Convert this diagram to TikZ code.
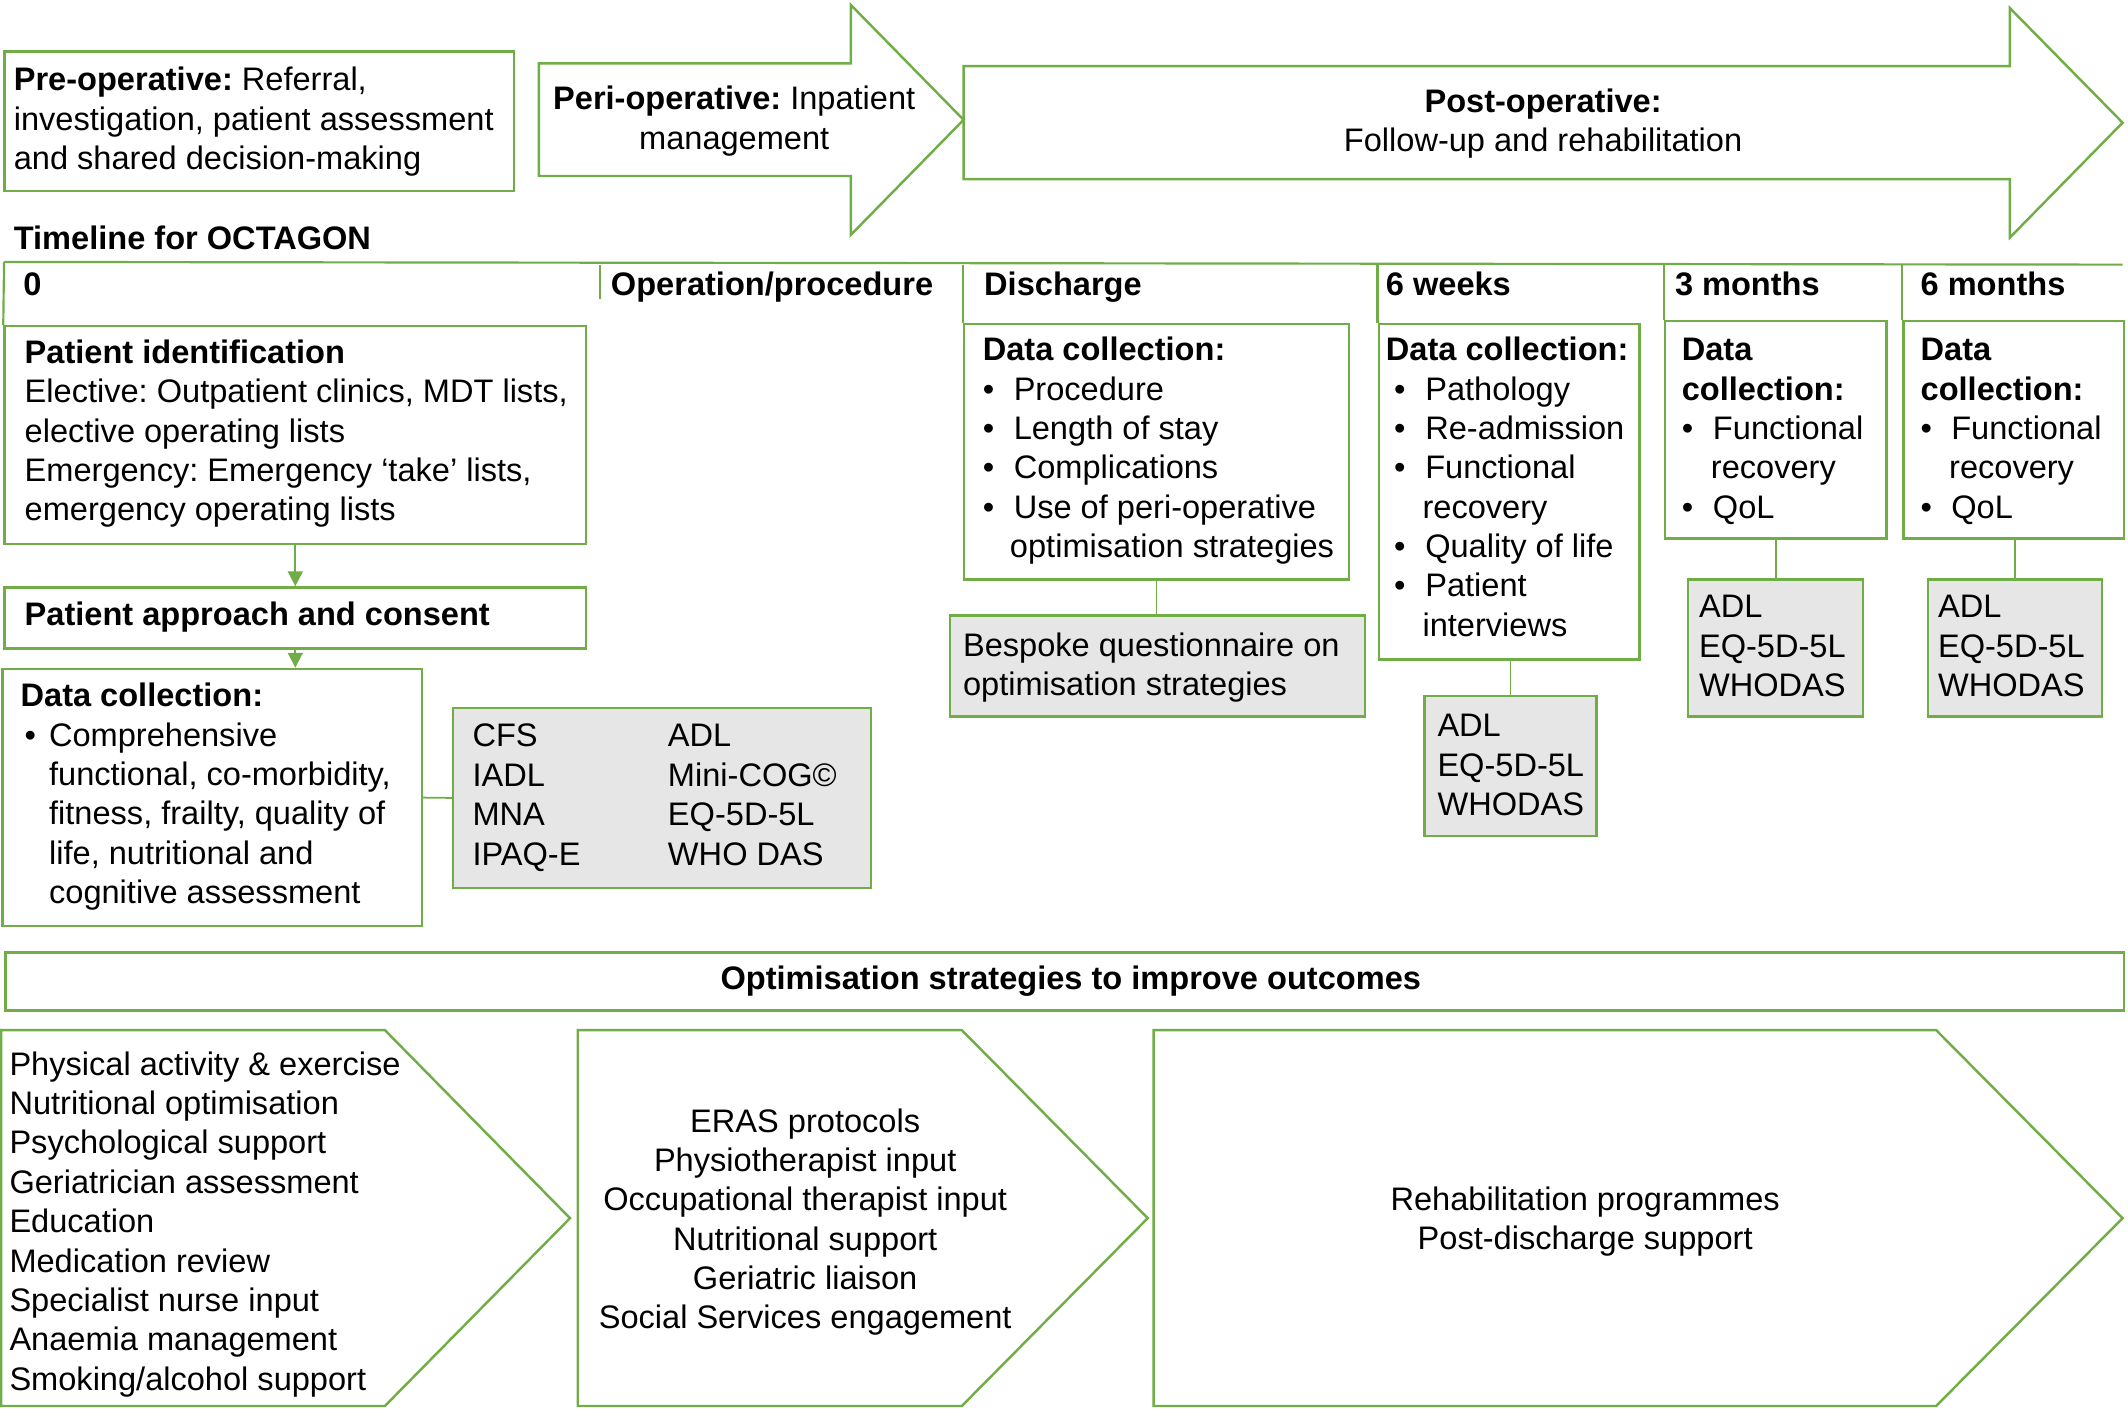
\documentclass[tikz,border=0pt]{standalone}
\usepackage{fontspec}
\setmainfont{Liberation Sans}
\usetikzlibrary{arrows.meta}
\definecolor{ogreen}{RGB}{112,173,71}
\definecolor{lgrey}{RGB}{231,230,230}
\newcommand\fs{\fontsize{24}{29}\selectfont\frenchspacing}
\newcommand\bul[2][0pt]{\makebox[#2][l]{\hspace{#1}\textbullet}}
\begin{document}
\begin{tikzpicture}[x=1pt,y=-1pt,
  gbox/.style={draw=ogreen, line width=1.8pt, inner sep=0pt, anchor=north west},
  greybox/.style={gbox, fill=lgrey},
  shp/.style={draw=ogreen, line width=1.8pt, line join=miter},
  txt/.style={inner sep=0pt, anchor=north west, align=left, font=\fs},
  ctxt/.style={inner sep=0pt, anchor=north, align=center, font=\fs},
  conn/.style={draw=ogreen, line width=1.3pt},
  arr/.style={conn, -{Triangle[length=11pt,width=11pt]}},
  tl/.style={draw=ogreen, line width=1.6pt}]
\useasboundingbox (0,0) rectangle (1568,1037.5);

% ---- top phase row
\node[gbox, minimum width=375.6pt, minimum height=103pt] (pre) at (2.4,37) {};
\node[txt] (pretxt) at (10,46.3) {\strut\textbf{Pre-operative:} Referral,\\investigation, patient assessment\\and shared decision-making};

\draw[shp] (397,46.7) -- (627,46.7) -- (627,3.7) -- (710,88.3) -- (627,173) -- (627,129.7) -- (397,129.7) -- cycle;
\node[ctxt] (peritxt) at (541,60.3) {\strut\textbf{Peri-operative:} Inpatient\\management};

\draw[shp] (710,48.7) -- (1481,48.7) -- (1481,6) -- (1564,90.4) -- (1481,175) -- (1481,132) -- (710,132) -- cycle;
\node[ctxt] (posttxt) at (1137,62.3) {\strut\textbf{Post-operative:}\\Follow-up and rehabilitation};

\node[txt] (tltitle) at (10,163.3) {\strut\textbf{Timeline for OCTAGON}};

% ---- timeline boxes
\node[gbox, minimum width=428.6pt, minimum height=160.5pt] (pi) at (2.4,239.5) {};
\node[gbox, minimum width=428.6pt, minimum height=45pt] (appr) at (2.4,432) {};
\node[gbox, minimum width=309pt, minimum height=189.6pt] (dc) at (1,492) {};
\node[greybox, minimum width=308pt, minimum height=132.7pt] (tools) at (333,520.7) {};

\node[gbox, minimum width=283.5pt, minimum height=188.2pt] (dis) at (709.5,237.8) {};
\node[greybox, minimum width=306pt, minimum height=74.5pt] (bes) at (699,452.5) {};

\node[gbox, minimum width=192pt, minimum height=247pt] (wk) at (1015,238) {};
\node[greybox, minimum width=127pt, minimum height=103pt] (wkg) at (1048.6,512) {};

\node[gbox, minimum width=163pt, minimum height=160.4pt] (mA) at (1226,235.6) {};
\node[greybox, minimum width=129pt, minimum height=101pt] (mAg) at (1243,426) {};

\node[gbox, minimum width=162.4pt, minimum height=160.4pt] (mB) at (1401.6,235.6) {};
\node[greybox, minimum width=128.2pt, minimum height=101pt] (mBg) at (1419.8,426) {};

% timeline line and separators
\coordinate (tlA) at (3,193);
\coordinate (tlB) at (1564,195);
\coordinate (opA) at (441.8,195);
\coordinate (opB) at (441.8,220);
\draw[tl] (tlA) -- (tlB);
\draw[tl] (tlA) -- (pi.north west);
\draw[tl] (opA) -- (opB);
\draw[tl] (dis.north west |- tlB) -- (dis.north west);
\draw[tl] (wk.north west |- tlB) -- (wk.north west);
\draw[tl] (mA.north west |- tlB) -- (mA.north west);
\draw[tl] (mB.north west |- tlB) -- (mB.north west);

% headers
\node[txt] (h0) at (17,197.3) {\strut\textbf{0}};
\node[txt] (hop) at (450,197.3) {\strut\textbf{Operation/procedure}};
\node[txt] (hdis) at (725,197.3) {\strut\textbf{Discharge}};
\node[txt] (hwk) at (1021,197.3) {\strut\textbf{6 weeks}};
\node[txt] (hmA) at (1234,197.3) {\strut\textbf{3 months}};
\node[txt] (hmB) at (1415,197.3) {\strut\textbf{6 months}};

% left column texts
\node[txt] (pitxt) at (18,247.3) {\strut\textbf{Patient identification}\\Elective: Outpatient clinics, MDT lists,\\elective operating lists\\Emergency: Emergency ‘take’ lists,\\emergency operating lists};
\node[txt] (apprtxt) at (18,440.3) {\strut\textbf{Patient approach and consent}};
\node[txt] (dctxt) at (15,500.3) {\strut\textbf{Data collection:}\\\bul[3pt]{21pt}Comprehensive\\\hspace*{21pt}functional, co-morbidity,\\\hspace*{21pt}fitness, frailty, quality of\\\hspace*{21pt}life, nutritional and\\\hspace*{21pt}cognitive assessment};
\node[txt] (toolsA) at (348,529.9) {\strut CFS\\IADL\\MNA\\IPAQ-E};
\node[txt] (toolsB) at (492,529.9) {\strut ADL\\Mini-COG©\\EQ-5D-5L\\WHO DAS};

\draw[arr] (pi.south) -- (appr.north);
\draw[arr] (appr.south) -- (appr.south |- dc.north);
\draw[conn] (dc.east) -- (tools.west);

% discharge
\node[txt] (distxt) at (724,245.3) {\strut\textbf{Data collection:}\\\bul{22.8pt}Procedure\\\bul{22.8pt}Length of stay\\\bul{22.8pt}Complications\\\bul{22.8pt}Use of peri-operative\\\hspace*{20pt}optimisation strategies};
\node[txt] (bestxt) at (709.4,462.9) {\strut Bespoke questionnaire on\\optimisation strategies};
\draw[conn] (dis.south) -- (dis.south |- bes.north);

% 6 weeks
\node[txt] (wktxt) at (1021,245.3) {\strut\textbf{Data collection:}\\\bul[6pt]{29pt}Pathology\\\bul[6pt]{29pt}Re-admission\\\bul[6pt]{29pt}Functional\\\hspace*{27pt}recovery\\\bul[6pt]{29pt}Quality of life\\\bul[6pt]{29pt}Patient\\\hspace*{27pt}interviews};
\node[txt] (wkgtxt) at (1059,522.3) {\strut ADL\\EQ-5D-5L\\WHODAS};
\draw[conn] (wkg.north |- wk.south) -- (wkg.north);

% 3 months
\node[txt] (mAtxt) at (1239,245.3) {\strut\textbf{Data}\\\textbf{collection:}\\\bul{23pt}Functional\\\hspace*{21.5pt}recovery\\\bul{23pt}QoL};
\node[txt] (mAgtxt) at (1251.7,434.8) {\strut ADL\\EQ-5D-5L\\WHODAS};
\draw[conn] (mAg.north |- mA.south) -- (mAg.north);

% 6 months
\node[txt] (mBtxt) at (1415,245.3) {\strut\textbf{Data}\\\textbf{collection:}\\\bul{22.6pt}Functional\\\hspace*{21pt}recovery\\\bul{22.6pt}QoL};
\node[txt] (mBgtxt) at (1427.8,434.8) {\strut ADL\\EQ-5D-5L\\WHODAS};
\draw[conn] (mBg.north |- mB.south) -- (mBg.north);

% ---- optimisation strategies
\node[gbox, minimum width=1561pt, minimum height=42.6pt] (opt) at (3,701) {};
\node[ctxt] (opttxt) at (789,708.3) {\strut\textbf{Optimisation strategies to improve outcomes}};

\draw[shp] (0.9,759) -- (283.6,759) -- (420,897.6) -- (283.6,1036) -- (0.9,1036) -- cycle;
\draw[shp] (425.7,759) -- (708.7,759) -- (845.7,897.6) -- (708.7,1036) -- (425.7,1036) -- cycle;
\draw[shp] (850,759) -- (1426.6,759) -- (1564,897.6) -- (1426.6,1036) -- (850,1036) -- cycle;

\node[txt] (c1txt) at (6.8,771.8) {\strut Physical activity \& exercise\\Nutritional optimisation\\Psychological support\\Geriatrician assessment\\Education\\Medication review\\Specialist nurse input\\Anaemia management\\Smoking/alcohol support};
\node[ctxt] (c2txt) at (593.3,813.6) {\strut ERAS protocols\\Physiotherapist input\\Occupational therapist input\\Nutritional support\\Geriatric liaison\\Social Services engagement};
\node[ctxt] (c3txt) at (1168,871.3) {\strut Rehabilitation programmes\\Post-discharge support};
\end{tikzpicture}
\end{document}
